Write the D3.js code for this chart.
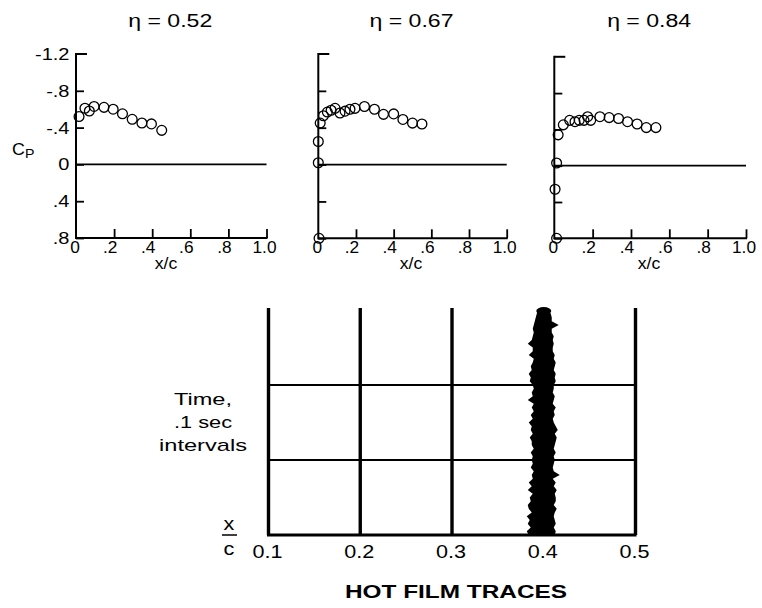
<!DOCTYPE html>
<html><head><meta charset="utf-8">
<script src="https://cdn.jsdelivr.net/npm/d3@7"></script>
<style>
body{margin:0;background:#fff}
svg{display:block}
text{font-family:"Liberation Sans",Arial,Helvetica,sans-serif;fill:#000}
</style>
</head><body>
<svg id="c" width="762" height="608"></svg>
<script>
// ---------------- DATA ----------------
const etaValues = [0.52, 0.67, 0.84];
const cpTicks = [-1.2, -0.8, -0.4, 0, 0.4, 0.8];
const cpTickLabels = ["-1.2", "-.8", "-.4", "0", ".4", ".8"];
const xcTicks = [0, 0.2, 0.4, 0.6, 0.8, 1.0];
const xcTickLabels = ["0", ".2", ".4", ".6", ".8", "1.0"];

const xc052 = [0.016, 0.047, 0.07, 0.095, 0.147, 0.195, 0.244, 0.295, 0.346, 0.396, 0.45];
const cp052 = [-0.52, -0.61, -0.58, -0.63, -0.62, -0.60, -0.55, -0.49, -0.45, -0.44, -0.37];

const xc067 = [0.004, 0.0, 0.0, 0.01, 0.027, 0.048, 0.068, 0.089, 0.115, 0.142, 0.168, 0.195, 0.245, 0.298, 0.346, 0.40, 0.449, 0.50, 0.55];
const cp067 = [0.80, -0.02, -0.25, -0.45, -0.53, -0.57, -0.59, -0.61, -0.56, -0.58, -0.60, -0.61, -0.63, -0.60, -0.545, -0.55, -0.49, -0.45, -0.44];

const xc084 = [0.012, 0.004, 0.012, 0.02, 0.047, 0.08, 0.108, 0.13, 0.155, 0.174, 0.19, 0.238, 0.286, 0.335, 0.382, 0.432, 0.48, 0.53];
const cp084 = [0.80, 0.26, -0.03, -0.34, -0.45, -0.50, -0.485, -0.50, -0.50, -0.54, -0.50, -0.54, -0.53, -0.52, -0.485, -0.46, -0.42, -0.42];

// hot film traces
const stations = [0.1, 0.2, 0.3, 0.4, 0.5];
const stationLabels = ["0.1", "0.2", "0.3", "0.4", "0.5"];
const traceState = ["laminar", "laminar", "laminar", "turbulent", "laminar"];
const timeMarks = [0.1, 0.2];           // seconds
// turbulent signal envelope at x/c = 0.4 (time in s, amplitude in arbitrary units)
const turbTime = [0, .005, .01, .015, .02, .025, .03, .035, .04, .045, .05, .055, .06, .065, .07,
  .075, .08, .085, .09, .095, .1, .105, .11, .115, .12, .125, .13, .135, .14, .145,
  .15, .155, .16, .165, .17, .175, .18, .185, .19, .195, .2, .205, .21, .215, .22,
  .225, .23, .235, .24, .245, .25, .255, .26, .265, .27, .275, .28, .285, .29, .295, .3];
const turbLeft = [1.5, 1.7, 1.3, 1.6, 1.4, 1.7, 1.2, 1.5, 1.6, 1.3, 1.4, 1.1, 1.6, 1.2, 1.5,
  1.1, 1.2, 1.0, 1.3, 1.1, 1.2, 1.1, 1.3, 1.0, 1.2, 1.2, 1.4, 1.1, 1.3, 1.2,
  1.5, 1.1, 1.3, 1.0, 1.2, 1.0, 1.6, 1.1, 1.2, 1.0, 1.1, 1.4, 1.3, 1.5, 1.2,
  1.3, 1.1, 1.0, 1.5, 1.1, 1.1, 1.6, 1.2, 1.1, 1.0, 1.1, 1.0, 0.9, 0.8, 0.7, 0.5];
const turbRight = [1.1, 1.2, 1.0, 1.2, 1.1, 1.0, 1.1, 1.3, 1.0, 1.2, 1.2, 1.1, 1.3, 1.0, 1.2,
  0.9, 1.6, 1.0, 0.9, 1.0, 1.1, 1.0, 1.2, 1.0, 1.1, 1.2, 1.3, 1.1, 1.4, 1.2,
  1.0, 0.9, 1.1, 1.0, 1.2, 0.9, 1.0, 1.1, 0.9, 1.0, 1.0, 1.2, 1.1, 1.2, 1.0,
  1.1, 1.2, 1.0, 1.1, 0.9, 0.9, 1.0, 0.9, 1.0, 0.8, 0.8, 1.5, 0.8, 0.8, 0.7, 0.5];

// ---------------- HELPERS ----------------
const svg = d3.select("#c");
// text with horizontal stretch (the original lettering is wide)
function txt(parent, x, y, s, o) {
  const g = parent.append("g").attr("transform", `translate(${x},${y}) scale(${o.sx || 1},1)`);
  const t = g.append("text").attr("x", 0).attr("y", 0)
    .attr("text-anchor", o.anchor || "start")
    .attr("font-size", o.size || 16);
  if (o.weight) t.attr("font-weight", o.weight);
  t.text(s);
  return t;
}

// ---------------- PANELS ----------------
const panels = [
  {L: 76, R: 266.5, T: 54, B: 238, xs: xc052, cps: cp052, labels: true, xcX: 166},
  {L: 318.3, R: 506.7, T: 54, B: 238.3, xs: xc067, cps: cp067, labels: false, xcX: 411},
  {L: 554.3, R: 746, T: 56.8, B: 238.3, xs: xc084, cps: cp084, labels: false, xcX: 649}
];

panels.forEach((p, i) => {
  const x = d3.scaleLinear().domain([0, 1]).range([p.L, p.R]);
  const y = d3.scaleLinear().domain([-1.2, 0.8]).range([p.T, p.B]);
  const g = svg.append("g");

  // title
  g.append("text")
    .attr("x", (p.L + p.R) / 2 - 1).attr("y", 27)
    .attr("text-anchor", "middle")
    .attr("font-size", 18)
    .attr("textLength", 84).attr("lengthAdjust", "spacingAndGlyphs")
    .text("\u03B7 = " + etaValues[i].toFixed(2));

  // y ticks (inward)
  g.append("g").attr("transform", `translate(${p.L},0)`)
    .call(d3.axisRight(y).tickValues(cpTicks.slice(1)).tickSize(8).tickFormat(""))
    .call(a => a.select(".domain").remove())
    .call(a => a.selectAll("line").attr("stroke", "#000").attr("stroke-width", 1.8));
  // top bracket tick
  g.append("line").attr("x1", p.L).attr("x2", p.L + 11)
    .attr("y1", y(-1.2)).attr("y2", y(-1.2)).attr("stroke", "#000").attr("stroke-width", 2);
  // y axis line
  g.append("line").attr("x1", p.L).attr("x2", p.L)
    .attr("y1", y(-1.2) - 1).attr("y2", y(0.8) + 1).attr("stroke", "#000").attr("stroke-width", 2);

  // x axis (at bottom, ticks upward)
  g.append("g").attr("transform", `translate(0,${p.B})`)
    .call(d3.axisTop(x).tickValues(xcTicks.slice(1)).tickSize(9).tickFormat(""))
    .call(a => a.select(".domain").remove())
    .call(a => a.selectAll("line").attr("stroke", "#000").attr("stroke-width", 1.8));
  g.append("line").attr("x1", p.L).attr("x2", x(1) + 1)
    .attr("y1", p.B).attr("y2", p.B).attr("stroke", "#000").attr("stroke-width", 2);

  // Cp = 0 line
  g.append("line").attr("x1", p.L).attr("x2", x(1))
    .attr("y1", y(0)).attr("y2", y(0)).attr("stroke", "#000").attr("stroke-width", 1.8);

  // x tick labels
  xcTicks.forEach((d, k) => {
    txt(g, x(d) + (k === 0 ? -1 : (k === 5 ? -2 : -4)), p.B + 15, xcTickLabels[k],
      {anchor: "middle", size: 16, sx: 1.08});
  });
  txt(g, p.xcX, p.B + 31, "x/c", {anchor: "middle", size: 16, sx: 1.1});

  if (p.labels) {
    cpTicks.forEach((d, k) => {
      txt(g, p.L - 6.5, y(d) + 6, cpTickLabels[k], {anchor: "end", size: 16, sx: 1.25});
    });
    const gC = g.append("g").attr("transform", "translate(12,155) scale(1.05,1)");
    const cpT = gC.append("text").attr("font-size", 17);
    cpT.append("tspan").text("C");
    cpT.append("tspan").attr("font-size", 13.5).attr("dy", 3).text("P");
  }

  // data circles
  g.selectAll("circle").data(p.xs.map((v, k) => [v, p.cps[k]])).join("circle")
    .attr("cx", d => x(d[0])).attr("cy", d => y(d[1])).attr("r", 4.9)
    .attr("fill", "none").attr("stroke", "#000").attr("stroke-width", 1.3);
});

// ---------------- HOT FILM TRACES ----------------
const sx = d3.scaleLinear().domain([0.1, 0.5]).range([268.5, 635.5]);
const ty = d3.scaleLinear().domain([0, 0.3]).range([535, 310]);
const amp = d3.scaleLinear().domain([0, 1]).range([0, 10]);
const hg = svg.append("g");

// time interval lines
hg.selectAll("line.tm").data(timeMarks).join("line").attr("class", "tm")
  .attr("x1", sx(0.1)).attr("x2", sx(0.5))
  .attr("y1", d => ty(d)).attr("y2", d => ty(d))
  .attr("stroke", "#000").attr("stroke-width", 1.8);
// base line
hg.append("line").attr("x1", sx(0.1) - 1.5).attr("x2", sx(0.5) + 1)
  .attr("y1", ty(0)).attr("y2", ty(0)).attr("stroke", "#000").attr("stroke-width", 3);

// laminar traces
hg.selectAll("line.tr").data(stations.filter((s, k) => traceState[k] === "laminar")).join("line").attr("class", "tr")
  .attr("x1", d => sx(d)).attr("x2", d => sx(d))
  .attr("y1", ty(0.3) - 2).attr("y2", ty(0))
  .attr("stroke", "#000").attr("stroke-width", 3.4);

// turbulent trace
stations.forEach((s, k) => {
  if (traceState[k] !== "turbulent") return;
  const pts = turbTime.map((t, j) => ({t, l: turbLeft[j], r: turbRight[j]}));
  const area = d3.area()
    .y(d => ty(d.t))
    .x0(d => sx(s) - amp(d.l))
    .x1(d => sx(s) + amp(d.r))
    .curve(d3.curveLinear);
  hg.append("path").attr("d", area(pts)).attr("fill", "#000");
  hg.append("ellipse").attr("cx", sx(s)).attr("cy", ty(0.3) + 1)
    .attr("rx", amp(0.75)).attr("ry", 4).attr("fill", "#000");
});

// station labels
stations.forEach((d, k) => {
  txt(hg, sx(d) - 1, 558, stationLabels[k], {anchor: "middle", size: 18, sx: 1.2});
});

// x/c fraction
txt(hg, 229, 530, "x", {anchor: "middle", size: 18, sx: 1.2});
hg.append("line").attr("x1", 222).attr("x2", 237).attr("y1", 535).attr("y2", 535)
  .attr("stroke", "#000").attr("stroke-width", 1.5);
txt(hg, 229, 555, "c", {anchor: "middle", size: 18, sx: 1.2});

// Time label
const tl = [["Time,", 405, 58], [".1 sec", 428, 58], ["intervals", 451, 88]];
tl.forEach(d => {
  hg.append("text").attr("x", 203).attr("y", d[1]).attr("text-anchor", "middle")
    .attr("font-size", 17).attr("textLength", d[2]).attr("lengthAdjust", "spacingAndGlyphs").text(d[0]);
});

// footer title
svg.append("text").attr("x", 345).attr("y", 598).attr("font-size", 18.5)
  .attr("font-weight", "bold").attr("textLength", 222).attr("lengthAdjust", "spacingAndGlyphs")
  .text("HOT FILM TRACES");
</script>
</body></html>
